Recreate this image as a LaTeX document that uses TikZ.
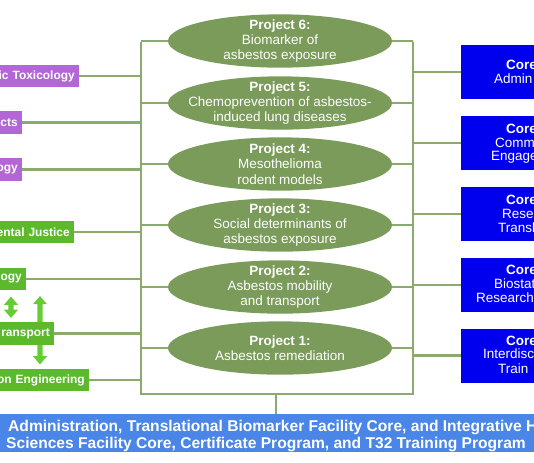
\documentclass[tikz,border=0pt]{standalone}
\usepackage{fontspec}
\setmainfont{Liberation Sans}
\usepackage{xcolor}
\usetikzlibrary{shapes.geometric,arrows.meta}
\definecolor{ProjGreen}{HTML}{7A9B5A}
\definecolor{BusGreen}{HTML}{8AAA6E}
\definecolor{SupPurple}{HTML}{B366D6}
\definecolor{SupGreen}{HTML}{5DB92C}
\definecolor{ArrGreen}{HTML}{66CC33}
\definecolor{CoreBlue}{HTML}{0000EE}
\definecolor{AdminBlue}{HTML}{4A86E8}

\begin{document}
\begin{tikzpicture}[x=0.03cm, y=-0.03cm,
    project/.style={ellipse, fill=ProjGreen, text=white, minimum width=6.72cm, minimum height=1.6cm,
      inner sep=-0.45cm, align=center, font=\fontsize{11.5}{13}\selectfont},
    leftbox/.style={fill=#1, text=white, anchor=east, align=right, text width=4cm, minimum height=0.68cm,
      inner xsep=0.12cm, inner ysep=0pt, font=\bfseries\fontsize{10.2}{12}\selectfont},
    corebox/.style={fill=CoreBlue, anchor=west, minimum width=3cm, minimum height=1.62cm, inner sep=0pt},
    coretext/.style={text=white, anchor=base west, inner sep=0pt, font=\fontsize{11.5}{12}\selectfont},
    bus/.style={BusGreen, line width=2.5pt},
    fatarrow/.style={ArrGreen, line width=4.3pt},
    tip/.tip={Triangle[width=11.5pt,length=7pt]}]
    \useasboundingbox (0,0) rectangle (534,462);
    \clip (0,0) rectangle (534,462);

    % the frame of green lines
    \coordinate (lt) at (141,42);
    \coordinate (lb) at (141,394);
    \coordinate (rb) at (413,394);
    \coordinate (rt) at (413,42);
    \coordinate (stem) at (276,394);
    \draw[bus] (lt) -- (lb) -- (rb) -- (rt);

    % Projects
    \node[project] (p6) at (280,41) {\textbf{Project 6:}\\Biomarker of\\asbestos exposure};
    \node[project] (p5) at (280,103) {\textbf{Project 5:}\\Chemoprevention of asbestos-\\induced lung diseases};
    \node[project] (p4) at (280,164) {\textbf{Project 4:}\\Mesothelioma\\rodent models};
    \node[project] (p3) at (280,225) {\textbf{Project 3:}\\Social determinants of\\asbestos exposure};
    \node[project] (p2) at (280,287) {\textbf{Project 2:}\\Asbestos mobility\\and transport};
    \node[project] (p1) at (280,348) {\textbf{Project 1:}\\Asbestos remediation};
    \foreach \p in {p1,p2,p3,p4,p5,p6} {
        \draw[bus] (\p.west -| lt) -- (\p.west);
        \draw[bus] (\p.east) -- (\p.east -| rt);
    }

    % left boxes, cut at the edge
    \node[leftbox=SupPurple] (tox) at (79,76) {ic Toxicology};
    \node[leftbox=SupPurple] (eff) at (22,122.5) {ects};
    \node[leftbox=SupPurple] (bio) at (22,169.5) {ogy};
    \node[leftbox=SupGreen] (just) at (74,232) {ental Justice};
    \node[leftbox=SupGreen] (ecol) at (26,279) {ogy};
    \node[leftbox=SupGreen] (trans) at (54,333.5) {ransport};
    \node[leftbox=SupGreen] (eng) at (89,380) {on Engineering};
    \foreach \b in {tox,eff,bio,just,ecol,trans,eng}
        \draw[bus] (\b.east) -- (\b.east -| lt);

    % green arrows
    \coordinate (up) at (40,296);
    \draw[fatarrow, tip-tip, shorten <=0.18cm, shorten >=0.12cm]
        ([xshift=-0.45cm]ecol.south east) -- ([xshift=-1.29cm]trans.north east);
    \draw[fatarrow, -tip] ([xshift=-0.42cm]trans.north east) -- (up);
    \draw[fatarrow, -tip, shorten >=0.12cm]
        ([xshift=-0.42cm]trans.south east) -- ([xshift=-1.47cm]eng.north east);

    % Cores
    \node[corebox] (core1) at (461,72) {};
    \node[corebox] (core2) at (461,143) {};
    \node[corebox] (core3) at (461,214) {};
    \node[corebox] (core4) at (461,285) {};
    \node[corebox] (core5) at (461,355.5) {};
    \foreach \c in {core1,core2,core3,core4,core5}
        \draw[bus] (rt |- \c.west) -- (\c.west);
    \node[coretext] (c1a) at (506,69) {\textbf{Core}};
    \node[coretext] (c1b) at (494,83) {Admin};
    \node[coretext] (c2a) at (506,133) {\textbf{Core}};
    \node[coretext] (c2b) at (495,147) {Comm};
    \node[coretext] (c2c) at (491,160.5) {Engage};
    \node[coretext] (c3a) at (506,204) {\textbf{Core}};
    \node[coretext] (c3b) at (502,218) {Resea};
    \node[coretext] (c3c) at (498,232) {Transla};
    \node[coretext] (c4a) at (506,274) {\textbf{Core}};
    \node[coretext] (c4b) at (494,288) {Biostat};
    \node[coretext] (c4c) at (476,302) {Research};
    \node[coretext] (c5a) at (506,345) {\textbf{Core}};
    \node[coretext] (c5b) at (483,358.5) {Interdisc};
    \node[coretext] (c5c) at (498,373) {Train};

    % bottom box
    \node[fill=AdminBlue, anchor=north west, minimum width=16.8cm, minimum height=1.14cm, inner sep=0pt]
        (admin) at (-10,414) {};
    \draw[bus] (stem) -- (stem |- admin.north);
    \node[text=white, anchor=base west, inner sep=0pt, font=\bfseries\fontsize{13.3}{15}\selectfont]
        (adm1) at (8,431.5) {Administration, Translational Biomarker Facility Core, and Integrative H};
    \node[text=white, anchor=base, inner sep=0pt, font=\bfseries\fontsize{13.3}{15}\selectfont]
        (adm2) at (266,448.5) {Sciences Facility Core, Certificate Program, and T32 Training Program};
\end{tikzpicture}
\end{document}
